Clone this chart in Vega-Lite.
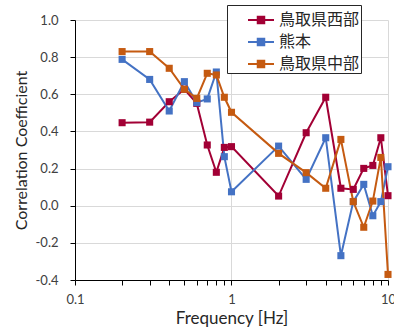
{
  "$schema": "https://vega.github.io/schema/vega-lite/v6.json",
  "width": 313,
  "height": 260,
  "autosize": {"type": "none"},
  "padding": {"left": 75, "top": 20, "right": 6, "bottom": 53},
  "background": "white",
  "config": {
    "font": "Lato",
    "view": {"stroke": null},
    "axis": {
      "domainColor": "#000000",
      "domainWidth": 1,
      "tickColor": "#000000",
      "tickSize": 5,
      "labelFontSize": 13,
      "labelColor": "#404040",
      "titleFontSize": 16,
      "titleFontWeight": "normal",
      "titleColor": "#262626",
      "gridColor": "#D9D9D9",
      "gridWidth": 1
    }
  },
  "data": {
    "values": [
      {"series": "鳥取県西部", "freq": 0.2, "r": 0.447},
      {"series": "鳥取県西部", "freq": 0.3, "r": 0.45},
      {"series": "鳥取県西部", "freq": 0.4, "r": 0.56},
      {"series": "鳥取県西部", "freq": 0.5, "r": 0.627},
      {"series": "鳥取県西部", "freq": 0.6, "r": 0.551},
      {"series": "鳥取県西部", "freq": 0.7, "r": 0.327},
      {"series": "鳥取県西部", "freq": 0.8, "r": 0.18},
      {"series": "鳥取県西部", "freq": 0.9, "r": 0.314},
      {"series": "鳥取県西部", "freq": 1, "r": 0.318},
      {"series": "鳥取県西部", "freq": 2, "r": 0.052},
      {"series": "鳥取県西部", "freq": 3, "r": 0.393},
      {"series": "鳥取県西部", "freq": 4, "r": 0.584},
      {"series": "鳥取県西部", "freq": 5, "r": 0.094},
      {"series": "鳥取県西部", "freq": 6, "r": 0.088},
      {"series": "鳥取県西部", "freq": 7, "r": 0.201},
      {"series": "鳥取県西部", "freq": 8, "r": 0.217},
      {"series": "鳥取県西部", "freq": 9, "r": 0.366},
      {"series": "鳥取県西部", "freq": 10, "r": 0.054},
      {"series": "熊本", "freq": 0.2, "r": 0.788},
      {"series": "熊本", "freq": 0.3, "r": 0.68},
      {"series": "熊本", "freq": 0.4, "r": 0.51},
      {"series": "熊本", "freq": 0.5, "r": 0.668},
      {"series": "熊本", "freq": 0.6, "r": 0.555},
      {"series": "熊本", "freq": 0.7, "r": 0.575},
      {"series": "熊本", "freq": 0.8, "r": 0.72},
      {"series": "熊本", "freq": 0.9, "r": 0.264},
      {"series": "熊本", "freq": 1, "r": 0.075},
      {"series": "熊本", "freq": 2, "r": 0.321},
      {"series": "熊本", "freq": 3, "r": 0.142},
      {"series": "熊本", "freq": 4, "r": 0.366},
      {"series": "熊本", "freq": 5, "r": -0.269},
      {"series": "熊本", "freq": 6, "r": 0.022},
      {"series": "熊本", "freq": 7, "r": 0.115},
      {"series": "熊本", "freq": 8, "r": -0.054},
      {"series": "熊本", "freq": 9, "r": 0.022},
      {"series": "熊本", "freq": 10, "r": 0.21},
      {"series": "鳥取県中部", "freq": 0.2, "r": 0.83},
      {"series": "鳥取県中部", "freq": 0.3, "r": 0.83},
      {"series": "鳥取県中部", "freq": 0.4, "r": 0.74},
      {"series": "鳥取県中部", "freq": 0.5, "r": 0.627},
      {"series": "鳥取県中部", "freq": 0.6, "r": 0.578},
      {"series": "鳥取県中部", "freq": 0.7, "r": 0.713},
      {"series": "鳥取県中部", "freq": 0.8, "r": 0.704},
      {"series": "鳥取県中部", "freq": 0.9, "r": 0.584},
      {"series": "鳥取県中部", "freq": 1, "r": 0.503},
      {"series": "鳥取県中部", "freq": 2, "r": 0.282},
      {"series": "鳥取県中部", "freq": 3, "r": 0.178},
      {"series": "鳥取県中部", "freq": 4, "r": 0.094},
      {"series": "鳥取県中部", "freq": 5, "r": 0.357},
      {"series": "鳥取県中部", "freq": 6, "r": 0.022},
      {"series": "鳥取県中部", "freq": 7, "r": -0.116},
      {"series": "鳥取県中部", "freq": 8, "r": 0.025},
      {"series": "鳥取県中部", "freq": 9, "r": 0.26},
      {"series": "鳥取県中部", "freq": 10, "r": -0.37}
    ]
  },
  "encoding": {
    "x": {
      "field": "freq",
      "type": "quantitative",
      "title": "Frequency [Hz]",
      "scale": {"type": "log", "domain": [0.1, 10], "nice": false},
      "axis": {
        "values": [0.1, 0.2, 0.3, 0.4, 0.5, 0.6, 0.7, 0.8, 0.9, 1, 2, 3, 4, 5, 6, 7, 8, 9, 10],
        "labelExpr": "datum.value == 0.1 || datum.value == 1 || datum.value == 10 ? format(datum.value, '~g') : ''",
        "labelOverlap": false,
        "labelFlush": false,
        "labelPadding": 8,
        "titlePadding": 4,
        "titleFontSize": 17,
        "gridOpacity": {"condition": {"test": "datum.value == 0.1 || datum.value == 1 || datum.value == 10", "value": 1}, "value": 0}
      }
    },
    "y": {
      "field": "r",
      "type": "quantitative",
      "title": "Correlation Coefficient",
      "scale": {"domain": [-0.4, 1.0], "nice": false, "zero": false},
      "axis": {
        "values": [-0.4, -0.2, 0, 0.2, 0.4, 0.6, 0.8, 1.0],
        "format": ".1f",
        "labelExpr": "replace(datum.label, '−', '-')",
        "labelPadding": 12,
        "titlePadding": 6
      }
    },
    "color": {
      "field": "series",
      "type": "nominal",
      "scale": {
        "domain": ["鳥取県西部", "熊本", "鳥取県中部"],
        "range": ["#A20035", "#4472C4", "#C55A11"]
      },
      "legend": {
        "title": null,
        "orient": "none",
        "legendX": 152,
        "legendY": -15,
        "fillColor": "white",
        "strokeColor": "#262626",
        "padding": 1,
        "symbolOffset": 19,
        "symbolType": "M-1,0H1M-0.25,-0.25H0.25V0.25H-0.25Z",
        "symbolSize": 676,
        "symbolStrokeWidth": 2,
        "labelFont": "Noto Sans CJK JP",
        "labelFontSize": 16,
        "labelColor": "#262626",
        "labelOffset": 4,
        "labelExpr": "datum.label + '　'",
        "rowPadding": 0,
        "encode": {
          "symbols": {
            "update": {
              "fill": {"scale": "color", "field": "value"},
              "stroke": {"scale": "color", "field": "value"},
              "fillOpacity": {"value": 1}
            }
          }
        }
      }
    }
  },
  "layer": [
    {"mark": {"type": "line", "strokeWidth": 2}},
    {"mark": {"type": "point", "shape": "square", "filled": true, "size": 50, "opacity": 1}}
  ]
}
